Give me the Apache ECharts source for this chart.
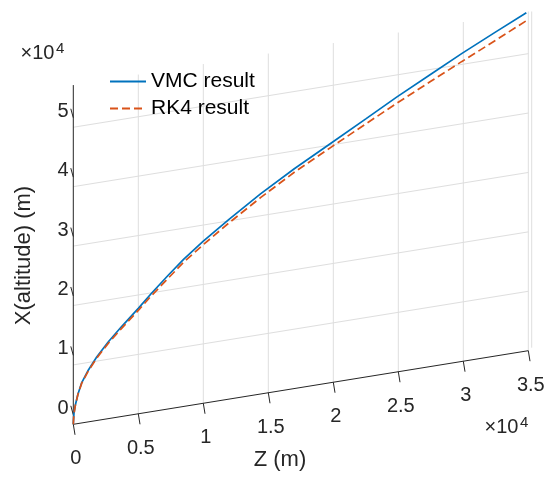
<!DOCTYPE html>
<html><head><meta charset="utf-8">
<script src="https://cdn.jsdelivr.net/npm/echarts@6/dist/echarts.min.js"></script>
<style>html,body{margin:0;padding:0;background:#fff}#c{width:548px;height:480px}</style>
</head><body><div id="c"></div>
<script>
// ---- data (metres) ----
const zTicks = [0, 5000, 10000, 15000, 20000, 25000, 30000, 35000];
const zTickLabels = ['0', '0.5', '1', '1.5', '2', '2.5', '3', '3.5'];
const xTicks = [0, 10000, 20000, 30000, 40000, 50000];
const xTickLabels = ['0', '1', '2', '3', '4', '5'];
const seriesNames = ['VMC result', 'RK4 result'];
const zValues   = [0, 50, 150, 350, 650, 1150, 1800, 2700, 3700, 5000, 6000, 7300, 8500, 10000, 12000, 14400, 17000, 19900, 22500, 24900, 27500, 29900, 32500, 34850];
const vmcValues = [0, 1800, 3100, 4900, 6800, 8700, 10700, 12950, 15100, 17750, 19900, 22500, 24800, 27300, 30300, 33700, 37000, 40400, 43450, 46300, 49200, 51850, 54550, 56950];
const rk4Values = [0, 1750, 3050, 4850, 6700, 8550, 10500, 12700, 14800, 17400, 19500, 22000, 24300, 26700, 29700, 33050, 36400, 39700, 42600, 45250, 48000, 50500, 53150, 55600];

// ---- view (3-D projection of the Z–X plane) ----
const SHEAR = 0.354;        // screen rise per unit Z, in X units
const Z_MAX = 35000, X_TOP = 57100;
const proj = (z, x) => [z, x + SHEAR * z];

const FONT = '"Liberation Sans", Arial, Helvetica, sans-serif';
const TXT = '#262626', AXIS = '#262626', GRID = '#dedede';

function txt(x, y, text, size, align, valign, fill, rot) {
  return { type: 'text', x: x, y: y, rotation: rot || 0,
    style: { text: text, font: size + 'px ' + FONT, fill: fill || TXT,
      align: align, verticalAlign: valign, textAlign: align, textVerticalAlign: valign } };
}
function seg(p, q, color, w) {
  return { type: 'line', shape: { x1: p[0], y1: p[1], x2: q[0], y2: q[1] },
    style: { stroke: color, lineWidth: w || 1 } };
}

const chart = echarts.init(document.getElementById('c'), null, { renderer: 'canvas' });
chart.setOption({
  animation: false,
  backgroundColor: '#fff',
  grid: { left: 73.3, top: 11.47, width: 455, height: 412.83, containLabel: false },
  xAxis: { type: 'value', min: 0, max: Z_MAX, show: false },
  yAxis: { type: 'value', min: 0, max: X_TOP + SHEAR * Z_MAX, show: false },
  legend: {
    data: seriesNames, orient: 'vertical', left: 109, top: 71, padding: 0,
    itemWidth: 36, itemHeight: 14, itemGap: 6, selectedMode: false,
    itemStyle: { opacity: 0 },
    textStyle: { fontSize: 21, fontFamily: FONT, color: '#000' }
  },
  series: [
    { // grid lines of constant X
      type: 'custom', silent: true, z: 1,
      data: xTicks.slice(1).map(x => [x]),
      renderItem: (params, api) => {
        const x = api.value(0);
        return seg(api.coord(proj(0, x)), api.coord(proj(Z_MAX, x)), GRID, 1);
      }
    },
    { // grid lines of constant Z + back edge
      type: 'custom', silent: true, z: 1,
      data: zTicks.slice(1).map(z => [z]),
      renderItem: (params, api) => {
        const z = api.value(0);
        const a = api.coord(proj(z, 0)), b = api.coord(proj(z, X_TOP));
        const ch = [seg(a, b, GRID, 1)];
        if (z === Z_MAX) ch.push(seg([a[0] + 3.4, a[1] - 3], [b[0] + 3.4, b[1]], GRID, 1));
        return { type: 'group', children: ch };
      }
    },
    { // axes lines
      type: 'custom', silent: true, z: 3,
      data: [[0]],
      renderItem: (params, api) => ({ type: 'group', children: [
        seg(api.coord(proj(0, 0)), api.coord(proj(Z_MAX, 0)), AXIS, 1),
        seg(api.coord(proj(0, 0)), api.coord(proj(0, X_TOP)), AXIS, 1)
      ]})
    },
    { // Z ticks and labels
      type: 'custom', silent: true, z: 3,
      data: zTicks.map(z => [z]),
      renderItem: (params, api) => {
        const p = api.coord(proj(api.value(0), 0));
        return { type: 'group', children: [
          seg(p, [p[0] + 1.7, p[1] + 10.5], AXIS, 1),
          txt(p[0] + 2.5, p[1] + 34.3, zTickLabels[params.dataIndex], 20, 'center', 'middle')
        ]};
      }
    },
    { // X ticks and labels
      type: 'custom', silent: true, z: 3,
      data: xTicks.map(x => [x]),
      renderItem: (params, api) => {
        const p = api.coord(proj(0, api.value(0)));
        return { type: 'group', children: [
          seg([p[0], p[1] - 9.5], [p[0] - 2.5, p[1] - 18.5], AXIS, 1),
          txt(p[0] - 4.8, p[1] - 16, xTickLabels[params.dataIndex], 20, 'right', 'middle')
        ]};
      }
    },
    {
      name: seriesNames[0], type: 'line', z: 5, clip: false, symbol: 'none', showSymbol: false,
      data: zValues.map((z, i) => proj(z, vmcValues[i])),
      lineStyle: { color: '#0072BD', width: 1.7 }, itemStyle: { color: '#0072BD' }
    },
    {
      name: seriesNames[1], type: 'line', z: 6, clip: false, symbol: 'none', showSymbol: false,
      data: zValues.map((z, i) => proj(z, rk4Values[i])),
      lineStyle: { color: '#D95319', width: 1.7, type: [8, 4] }, itemStyle: { color: '#D95319' }
    }
  ],
  graphic: [
    txt(280, 460, 'Z (m)', 22, 'center', 'middle'),
    txt(23.5, 255.5, 'X(altitude) (m)', 22, 'center', 'middle', TXT, Math.PI / 2),
    txt(20.5, 53, '×10', 20, 'left', 'middle'),
    txt(56, 48.5, '4', 15, 'left', 'middle'),
    txt(484.5, 427.5, '×10', 20, 'left', 'middle'),
    txt(520, 423, '4', 15, 'left', 'middle')
  ]
});
</script></body></html>
